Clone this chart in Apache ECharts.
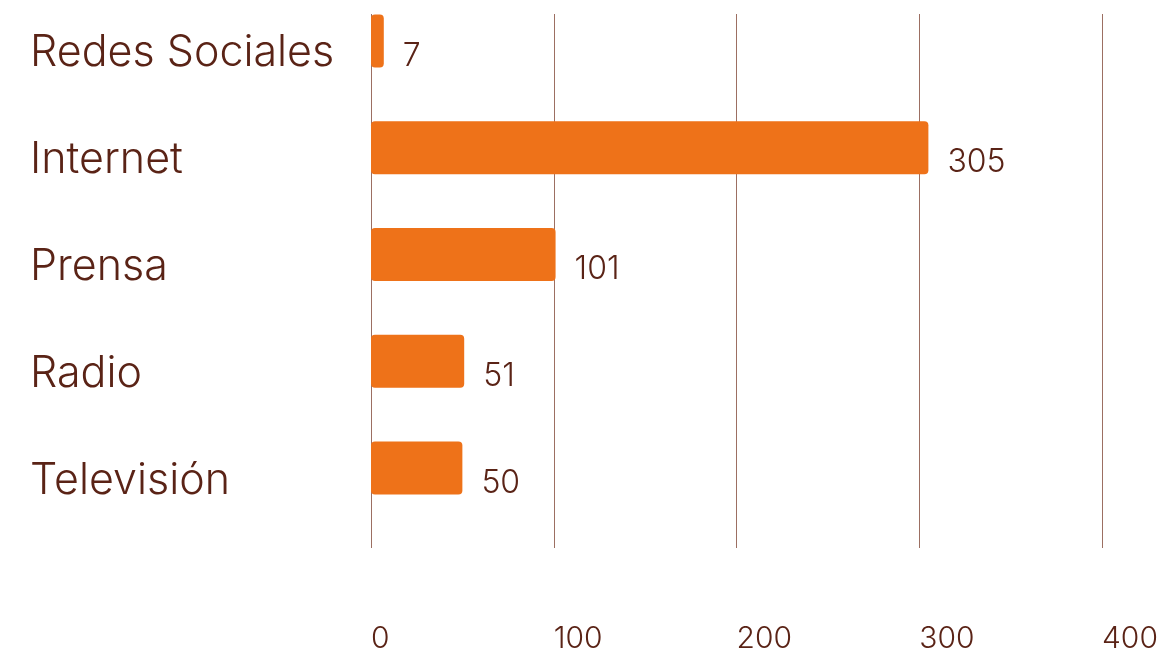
<!DOCTYPE html>
<html>
<head>
<meta charset="utf-8">
<script src="https://cdn.jsdelivr.net/npm/echarts@6/dist/echarts.min.js"></script>
<style>
html,body{margin:0;padding:0;background:#fff;}
#chart{width:1162px;height:661px;}
</style>
</head>
<body>
<div id="chart"></div>
<script>
const categories = ["Redes Sociales", "Internet", "Prensa", "Radio", "Televisión"];
const values = [7, 305, 101, 51, 50];
const ghost = ["-", "-", "-", "-", "-"];
const xTicks = [0, 100, 200, 300, 400];

const textColor = "#5a2316";
const chart = echarts.init(document.getElementById("chart"));
chart.setOption({
  animation: false,
  grid: { left: 371, right: 60, top: 14, bottom: 113, containLabel: false },
  xAxis: {
    type: "value",
    min: xTicks[0],
    max: xTicks[xTicks.length - 1],
    interval: 100,
    axisLine: { show: false },
    axisTick: { show: false },
    splitLine: { show: true, lineStyle: { color: "#9c6f62", width: 1 } },
    axisLabel: {
      color: textColor, fontFamily: "Inter", fontSize: 30, fontWeight: 300,
      align: "left", margin: 76
    }
  },
  yAxis: {
    type: "category",
    data: categories,
    inverse: true,
    axisLine: { show: false },
    axisTick: { show: false },
    splitLine: { show: false },
    axisLabel: {
      color: textColor, fontFamily: "Inter", fontSize: 43, fontWeight: 300,
      align: "left", margin: 341, verticalAlign: "bottom", lineHeight: 28
    }
  },
  series: [
    {
      type: "bar",
      data: values,
      barWidth: 53,
      barGap: "0%",
      itemStyle: { color: "#ee7219", borderRadius: 4 },
      label: {
        show: true, position: "right", distance: 19, offset: [0, 15],
        color: textColor, fontFamily: "Inter", fontSize: 32, fontWeight: 300
      }
    },
    {
      type: "bar",
      data: ghost,
      barWidth: 53,
      barGap: "0%",
      itemStyle: { color: "transparent" }
    }
  ]
});
</script>
</body>
</html>
